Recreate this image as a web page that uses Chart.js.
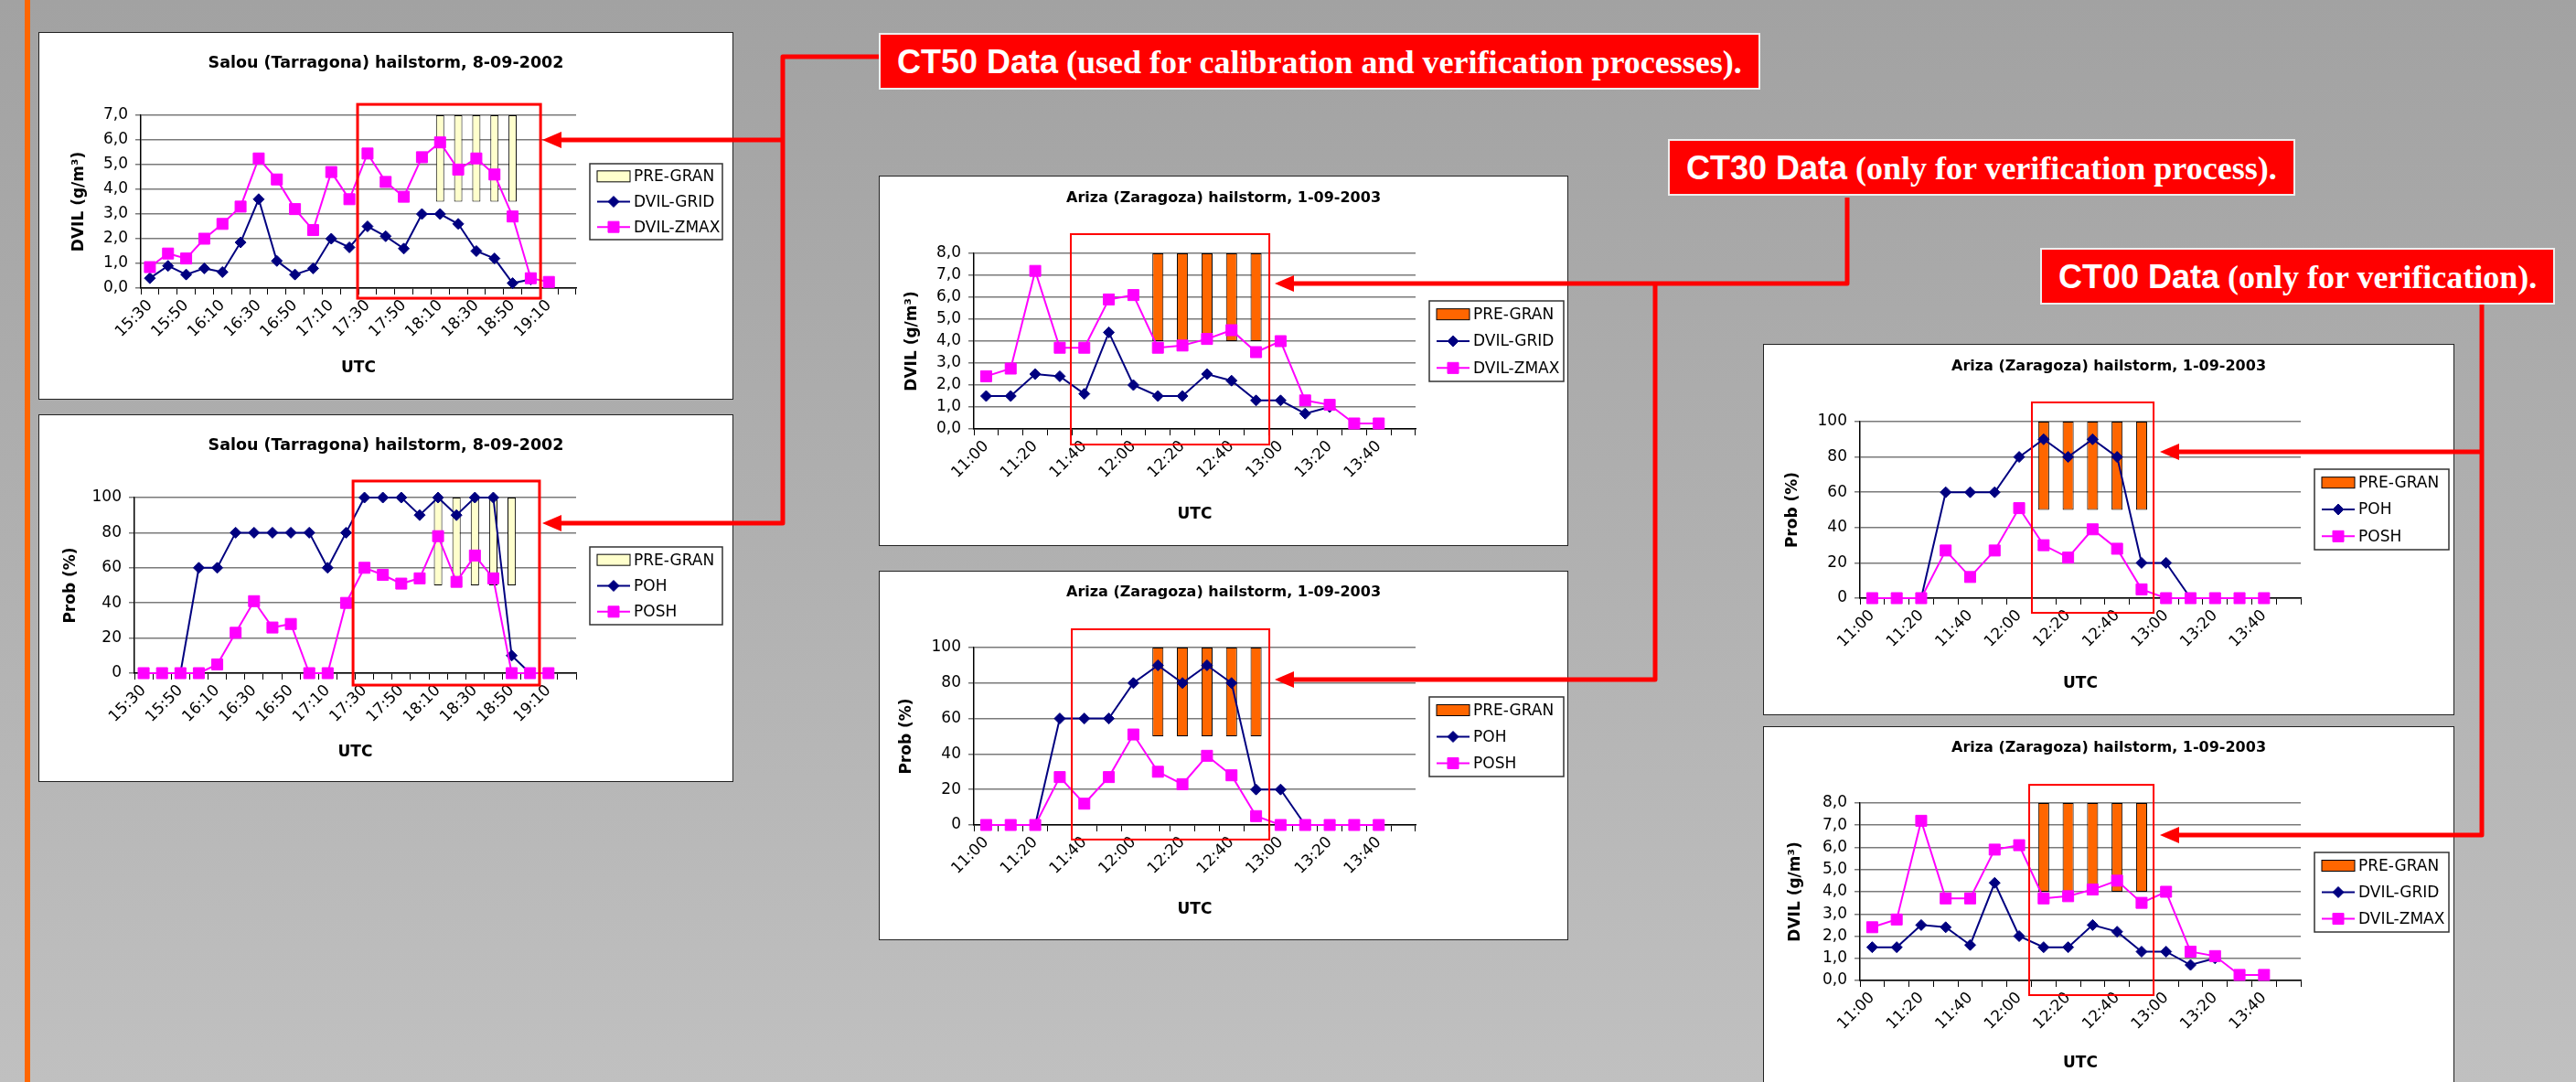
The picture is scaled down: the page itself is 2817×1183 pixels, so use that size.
<!DOCTYPE html>
<html>
<head>
<meta charset="utf-8">
<title>Hailstorm DVIL / hail probability</title>
<script src="https://cdn.jsdelivr.net/npm/chart.js@4.4.0/dist/chart.umd.min.js"></script>
<style>
  html, body { margin: 0; padding: 0; }
  body {
    width: 2817px; height: 1183px; overflow: hidden; position: relative;
    background: linear-gradient(to bottom, #a2a2a2 0%, #b0b0b0 50%, #c0c0c0 100%);
  }
  .edge { position: absolute; left: 27px; top: 0; width: 6px; height: 1183px; background: #ff6600; }
  .panel { position: absolute; background: #fff; border: 1px solid #222; box-sizing: border-box; }
  .panel canvas { display: block; }
  .tag {
    position: absolute; height: 62px; box-sizing: border-box; padding: 2px 18px 0 18px;
    background: #ff0000; color: #fff; border: 2px solid #eee;
    line-height: 56px; white-space: nowrap; font-size: 36px;
  }
  .tag b { font-family: "Liberation Sans", Arial, sans-serif; }
  .tag span { font-family: "Liberation Serif", "Times New Roman", serif; font-weight: bold; }
  svg.links { position: absolute; left: 0; top: 0; }
</style>
</head>
<body>
<div class="edge"></div>

<div class="panel" style="left:42px;top:35px;width:760px;height:402px"><canvas id="salouDvil" width="758" height="400"></canvas></div>
<div class="panel" style="left:42px;top:453px;width:760px;height:402px"><canvas id="salouProb" width="758" height="400"></canvas></div>
<div class="panel" style="left:961px;top:192px;width:754px;height:405px"><canvas id="ct30Dvil" width="752" height="403"></canvas></div>
<div class="panel" style="left:961px;top:624px;width:754px;height:404px"><canvas id="ct30Prob" width="752" height="402"></canvas></div>
<div class="panel" style="left:1928px;top:376px;width:756px;height:406px"><canvas id="ct00Prob" width="754" height="404"></canvas></div>
<div class="panel" style="left:1928px;top:794px;width:756px;height:406px"><canvas id="ct00Dvil" width="754" height="404"></canvas></div>

<svg class="links" width="2817" height="1183">
  <g stroke="#ff0000" stroke-width="5" fill="none" stroke-linejoin="round">
    <polyline points="961,62 856,62 856,572 610,572"/>
    <line x1="856" y1="153" x2="610" y2="153"/>
    <polyline points="2020,216 2020,310 1410,310"/>
    <polyline points="1810,310 1810,743 1410,743"/>
    <polyline points="2714,333 2714,913 2378,913"/>
    <line x1="2714" y1="494" x2="2378" y2="494"/>
  </g>
  <g fill="#ff0000">
    <polygon points="593,153 614,144 614,162"/>
    <polygon points="593,572 614,563 614,581"/>
    <polygon points="1394,310 1415,301 1415,319"/>
    <polygon points="1394,743 1415,734 1415,752"/>
    <polygon points="2362,494 2383,485 2383,503"/>
    <polygon points="2362,913 2383,904 2383,922"/>
  </g>
</svg>

<div class="tag" style="left:961px;top:36px"><b>CT50 Data</b><span> (used for calibration and verification processes).</span></div>
<div class="tag" style="left:1824px;top:152px"><b>CT30 Data</b><span> (only for verification process).</span></div>
<div class="tag" style="left:2231px;top:271px"><b>CT00 Data</b><span> (only for verification).</span></div>

<script>
// Salou (Tarragona) hailstorm, 8-09-2002, 10 min steps
const salouTimes = ['15:30', '15:40', '15:50', '16:00', '16:10', '16:20', '16:30', '16:40',
  '16:50', '17:00', '17:10', '17:20', '17:30', '17:40', '17:50', '18:00',
  '18:10', '18:20', '18:30', '18:40', '18:50', '19:00', '19:10', '19:20'];
const salouDvilGrid = [0.4, 0.9, 0.55, 0.8, 0.65, 1.85, 3.6, 1.1, 0.55, 0.8, 2.0, 1.65,
  2.5, 2.1, 1.6, 3.0, 3.0, 2.6, 1.5, 1.2, 0.2, 0.35, null, null];
const salouDvilZmax = [0.85, 1.4, 1.2, 2.0, 2.6, 3.3, 5.25, 4.4, 3.2, 2.35, 4.7, 3.6,
  5.45, 4.3, 3.7, 5.3, 5.9, 4.8, 5.25, 4.6, 2.9, 0.4, 0.25, null];
const salouPoh = [0, 0, 0, 60, 60, 80, 80, 80, 80, 80, 60, 80,
  100, 100, 100, 90, 100, 90, 100, 100, 10, 0, null, null];
const salouPosh = [0, 0, 0, 0, 5, 23, 41, 26, 28, 0, 0, 40,
  60, 56, 51, 54, 78, 52, 67, 54, 0, 0, 0, null];
const salouPreGran = ['18:10', '18:20', '18:30', '18:40', '18:50'];
const salouPreGranDvil = [3.5, 7.0];
const salouPreGranProb = [50, 100];

// Ariza (Zaragoza) hailstorm, 1-09-2003
const arizaTimes = ['11:00', '11:10', '11:20', '11:30', '11:40', '11:50', '12:00', '12:10', '12:20',
  '12:30', '12:40', '12:50', '13:00', '13:10', '13:20', '13:30', '13:40', '13:50'];
const arizaDvilGrid = [1.5, 1.5, 2.5, 2.4, 1.6, 4.4, 2.0, 1.5, 1.5, 2.5, 2.2, 1.3, 1.3, 0.7, 1.0, null, null, null];
const arizaDvilZmax = [2.4, 2.75, 7.2, 3.7, 3.7, 5.9, 6.1, 3.7, 3.8, 4.1, 4.5, 3.5, 4.0, 1.3, 1.1, 0.25, 0.25, null];
const arizaPoh = [0, 0, 0, 60, 60, 60, 80, 90, 80, 90, 80, 20, 20, 0, null, null, null, null];
const arizaPosh = [0, 0, 0, 27, 12, 27, 51, 30, 23, 39, 28, 5, 0, 0, 0, 0, 0, null];
const arizaPreGran = ['12:10', '12:20', '12:30', '12:40', '12:50'];
const arizaPreGranDvil = [4.0, 8.0];
const arizaPreGranProb = [50, 100];

const NAVY = '#000080';
const MAGENTA = '#ff00ff';

Chart.defaults.font.family = "'DejaVu Sans', sans-serif";
Chart.defaults.color = '#000';

// excel style legend in a framed box
const hailLegend = {
    id: 'hailLegend',
    afterDraw(chart, args, o) {
        const ctx = chart.ctx;
        const sets = chart.data.datasets;
        const rowH = o.h / sets.length;
        ctx.save();
        ctx.fillStyle = '#fff';
        ctx.fillRect(o.x, o.y, o.w, o.h);
        ctx.strokeStyle = '#333';
        ctx.lineWidth = 1.5;
        ctx.strokeRect(o.x, o.y, o.w, o.h);
        ctx.font = "17px 'DejaVu Sans'";
        ctx.textBaseline = 'middle';
        sets.forEach((ds, i) => {
            const cy = o.y + rowH * (i + 0.5);
            const sx = o.x + 8, ex = o.x + 44;
            if (ds.type === 'bar') {
                ctx.fillStyle = ds.backgroundColor;
                ctx.fillRect(sx, cy - 6, ex - sx, 12);
                ctx.strokeStyle = '#000';
                ctx.lineWidth = 1;
                ctx.strokeRect(sx, cy - 6, ex - sx, 12);
            } else {
                ctx.strokeStyle = ds.borderColor;
                ctx.lineWidth = ds.borderWidth;
                ctx.beginPath();
                ctx.moveTo(sx, cy);
                ctx.lineTo(ex, cy);
                ctx.stroke();
                ctx.fillStyle = ds.backgroundColor;
                ctx.lineWidth = 1;
                Chart.helpers.drawPoint(ctx, {pointStyle: ds.pointStyle, radius: ds.pointRadius, borderWidth: 1, rotation: 0}, (sx + ex) / 2, cy);
            }
            ctx.fillStyle = '#000';
            ctx.fillText(ds.label, ex + 4, cy + 1);
        });
        ctx.restore();
    }
};

// red frame around the pre-gran period, given in axis units
const redBox = {
    id: 'redBox',
    afterDatasetsDraw(chart, args, o) {
        const {x, y} = chart.scales;
        const l = x.getPixelForValue(o.from), r = x.getPixelForValue(o.to);
        const t = y.getPixelForValue(o.top), b = y.getPixelForValue(o.bottom);
        const ctx = chart.ctx;
        ctx.save();
        ctx.strokeStyle = '#ff0000';
        ctx.lineWidth = o.width;
        ctx.strokeRect(l, t, r - l, b - t);
        ctx.restore();
    }
};

function hailChart(c) {
    const canvas = document.getElementById(c.id);
    const W = canvas.width, H = canvas.height;
    const bars = c.times.map(t => c.preGran.includes(t) ? c.range : null);
    const lh = c.titleSize * 1.2;
    const tTop = c.titleY - lh / 2;
    const yFmt = c.dec ? (v => v.toFixed(1).replace('.', ',')) : (v => String(v));

    new Chart(canvas, {
        type: 'line',
        data: {
            labels: c.times,
            datasets: [{
                type: 'bar',
                label: 'PRE-GRAN',
                data: bars,
                backgroundColor: c.barColor,
                borderColor: '#000',
                borderWidth: 1,
                borderSkipped: false,
                barPercentage: 0.45,
                categoryPercentage: 1,
                order: 3
            }, {
                label: c.names[0],
                data: c.a,
                borderColor: NAVY,
                backgroundColor: NAVY,
                borderWidth: 2,
                pointStyle: 'rectRot',
                pointRadius: 6,
                pointBorderWidth: 1,
                clip: false,
                order: 2
            }, {
                label: c.names[1],
                data: c.b,
                borderColor: MAGENTA,
                backgroundColor: MAGENTA,
                borderWidth: 2,
                pointStyle: 'rect',
                pointRadius: 8.5,
                pointBorderWidth: 1,
                clip: false,
                order: 1
            }]
        },
        options: {
            responsive: false,
            animation: false,
            devicePixelRatio: 1,
            layout: { padding: 0 },
            scales: {
                x: {
                    offset: true,
                    grid: { offset: true, drawOnChartArea: false, tickLength: 7, color: '#000' },
                    border: { color: '#000', width: 1.5 },
                    ticks: {
                        autoSkip: false,
                        minRotation: 45,
                        maxRotation: 45,
                        padding: 2,
                        font: { size: 17 },
                        callback: function (v, i) { return i % 2 === 0 ? this.getLabelForValue(v) : ''; }
                    },
                    title: {
                        display: true, text: 'UTC',
                        font: { size: 17, weight: 'bold' },
                        padding: { top: 2, bottom: H - c.utcY - 10.2 }
                    },
                    afterFit: s => { s.height = H - c.area.bottom; }
                },
                y: {
                    min: 0,
                    max: c.yMax,
                    ticks: { stepSize: c.yStep, padding: 8, font: { size: 17 }, callback: yFmt },
                    grid: { color: '#7a7a7a', lineWidth: 1.5, tickLength: 6 },
                    border: { color: '#000', width: 1.5 },
                    title: {
                        display: true, text: c.yTitle,
                        font: { size: 17, weight: 'bold' },
                        padding: { top: c.yTitleX - 10.2, bottom: 0 }
                    },
                    afterFit: s => { s.width = c.area.left; }
                },
                // keeps room on the right for the legend box
                spacer: {
                    type: 'linear',
                    position: 'right',
                    grid: { display: false },
                    border: { display: false },
                    ticks: { display: false },
                    afterFit: s => { s.width = W - c.area.right; }
                }
            },
            plugins: {
                legend: { display: false },
                tooltip: { enabled: false },
                title: {
                    display: true,
                    text: c.title,
                    font: { size: c.titleSize, weight: 'bold' },
                    padding: { top: tTop, bottom: c.area.top - tTop - lh }
                },
                hailLegend: c.legend,
                redBox: c.red
            }
        },
        plugins: [hailLegend, redBox]
    });
}

const salouTitle = 'Salou (Tarragona) hailstorm, 8-09-2002';
const arizaTitle = 'Ariza (Zaragoza) hailstorm, 1-09-2003';

// CT50 panels
hailChart({
    id: 'salouDvil', title: salouTitle, titleSize: 17.5, titleY: 33,
    area: { left: 111, top: 90, right: 587, bottom: 279 },
    times: salouTimes, a: salouDvilGrid, b: salouDvilZmax, names: ['DVIL-GRID', 'DVIL-ZMAX'],
    preGran: salouPreGran, range: salouPreGranDvil, barColor: '#ffffcc',
    yMax: 7, yStep: 1, dec: true, yTitle: 'DVIL (g/m³)', yTitleX: 44, utcY: 367,
    legend: { x: 602, y: 143, w: 145, h: 83 },
    red: { from: 11.45, to: 21.54, top: 7.44, bottom: -0.41, width: 3 }
});
hailChart({
    id: 'salouProb', title: salouTitle, titleSize: 17.5, titleY: 33,
    area: { left: 104, top: 90, right: 587, bottom: 282 },
    times: salouTimes, a: salouPoh, b: salouPosh, names: ['POH', 'POSH'],
    preGran: salouPreGran, range: salouPreGranProb, barColor: '#ffffcc',
    yMax: 100, yStep: 20, dec: false, yTitle: 'Prob (%)', yTitleX: 35, utcY: 369,
    legend: { x: 602, y: 144, w: 145, h: 85 },
    red: { from: 11.38, to: 21.51, top: 109.4, bottom: -6.8, width: 3 }
});

// CT30 panels
hailChart({
    id: 'ct30Dvil', title: arizaTitle, titleSize: 16, titleY: 24,
    area: { left: 103, top: 84, right: 586, bottom: 276 },
    times: arizaTimes, a: arizaDvilGrid, b: arizaDvilZmax, names: ['DVIL-GRID', 'DVIL-ZMAX'],
    preGran: arizaPreGran, range: arizaPreGranDvil, barColor: '#ff6600',
    yMax: 8, yStep: 1, dec: true, yTitle: 'DVIL (g/m³)', yTitleX: 36, utcY: 370,
    legend: { x: 601, y: 136, w: 147, h: 88 },
    red: { from: 3.45, to: 11.54, top: 8.875, bottom: -0.71, width: 2 }
});
hailChart({
    id: 'ct30Prob', title: arizaTitle, titleSize: 16, titleY: 23,
    area: { left: 103, top: 83, right: 586, bottom: 277 },
    times: arizaTimes, a: arizaPoh, b: arizaPosh, names: ['POH', 'POSH'],
    preGran: arizaPreGran, range: arizaPreGranProb, barColor: '#ff6600',
    yMax: 100, yStep: 20, dec: false, yTitle: 'Prob (%)', yTitleX: 30, utcY: 370,
    legend: { x: 601, y: 137, w: 147, h: 87 },
    red: { from: 3.49, to: 11.54, top: 110.3, bottom: -8.2, width: 2 }
});

// CT00 panels
hailChart({
    id: 'ct00Prob', title: arizaTitle, titleSize: 16, titleY: 24,
    area: { left: 105, top: 84, right: 587, bottom: 277 },
    times: arizaTimes, a: arizaPoh, b: arizaPosh, names: ['POH', 'POSH'],
    preGran: arizaPreGran, range: arizaPreGranProb, barColor: '#ff6600',
    yMax: 100, yStep: 20, dec: false, yTitle: 'Prob (%)', yTitleX: 32, utcY: 371,
    legend: { x: 602, y: 136, w: 147, h: 88 },
    red: { from: 6.52, to: 11.49, top: 110.9, bottom: -8.3, width: 2 }
});
hailChart({
    id: 'ct00Dvil', title: arizaTitle, titleSize: 16, titleY: 23,
    area: { left: 105, top: 83, right: 587, bottom: 277 },
    times: arizaTimes, a: arizaDvilGrid, b: arizaDvilZmax, names: ['DVIL-GRID', 'DVIL-ZMAX'],
    preGran: arizaPreGran, range: arizaPreGranDvil, barColor: '#ff6600',
    yMax: 8, yStep: 1, dec: true, yTitle: 'DVIL (g/m³)', yTitleX: 35, utcY: 368,
    legend: { x: 602, y: 137, w: 147, h: 87 },
    red: { from: 6.41, to: 11.49, top: 8.82, bottom: -0.66, width: 2 }
});
</script>
</body>
</html>
